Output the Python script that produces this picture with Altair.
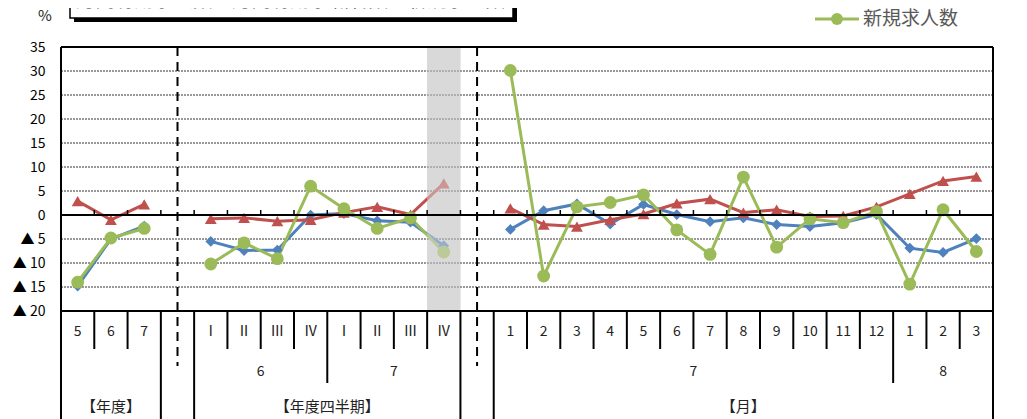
import altair as alt
import pandas as pd

# ---------------- data ----------------
fy_labels = ["5", "6", "7"]
q_labels = ["Ⅰ", "Ⅱ", "Ⅲ", "Ⅳ", "Ⅰ", "Ⅱ", "Ⅲ", "Ⅳ"]
m_labels = ["1", "2", "3", "4", "5", "6", "7", "8", "9", "10", "11", "12", "1", "2", "3"]
q_years = ["6", "7"]
m_years = ["7", "8"]
group_labels = ["【年度】", "【年度四半期】", "【月】"]
series_names = ["月間有効求人数", "月間有効求職者数", "新規求人数"]
series_colors = ["#4F81BD", "#C0504D", "#9BBB59"]
series_shapes = ["diamond", "triangle-up", "circle"]
title_text = "月間有効求人数、月間有効求職者数、新規求人数"

blue_fy = [-14.8, -5.0, -2.3]
blue_q = [-5.5, -7.4, -7.3, 0.0, 0.3, -1.2, -1.5, -6.4]
blue_m = [-3.0, 0.9, 2.3, -1.9, 2.2, 0.1, -1.4, -0.6, -2.0, -2.4, -1.6, 0.1, -6.9, -7.8, -4.9]

red_fy = [2.9, -1.0, 2.2]
red_q = [-0.8, -0.6, -1.3, -1.0, 0.5, 1.7, 0.1, 6.6]
red_m = [1.4, -2.0, -2.4, -1.0, 0.2, 2.4, 3.3, 0.5, 1.1, -0.3, -0.2, 1.7, 4.4, 7.1, 8.0]

green_fy = [-14.0, -4.8, -2.8]
green_q = [-10.2, -5.8, -9.1, 6.0, 1.3, -2.8, -0.6, -7.7]
green_m = [30.1, -12.7, 1.7, 2.6, 4.2, -3.1, -8.2, 7.9, -6.7, -0.8, -1.6, 0.7, -14.4, 1.1, -7.6]

y_ticks = [-20, -15, -10, -5, 0, 5, 10, 15, 20, 25, 30, 35]

# ---------------- layout ----------------
TOP, LEFT = 47, 61
W, H = 932, 378
PX = 4.8                       # pixels per unit
YMAX = 35
YMIN = YMAX - H / PX
NSLOT = 28

def ry(page_y):
    return page_y - TOP

def rx(page_x):
    return page_x - LEFT

slots_fy = [0, 1, 2]
slots_q = list(range(4, 12))
slots_m = list(range(13, 28))

xs = alt.Scale(domain=[0, NSLOT], nice=False, zero=False)
ys = alt.Scale(domain=[YMIN, YMAX], nice=False, zero=False)
FONT = "Noto Sans CJK JP"

y_axis = alt.Axis(
    values=y_ticks, title=None, domain=False, ticks=False, grid=False,
    labelFont=FONT, labelFontSize=14, labelColor="#000", labelPadding=16,
    labelOverlap=False, labelFlush=False,
    labelExpr="datum.value < 0 ? '▲ ' + abs(datum.value) : '' + datum.value")

rows = []
for name, fy, q, m in zip(series_names,
                          [blue_fy, red_fy, green_fy],
                          [blue_q, red_q, green_q],
                          [blue_m, red_m, green_m]):
    for grp, slots, vals in (("fy", slots_fy, fy), ("q", slots_q, q), ("m", slots_m, m)):
        for s, v in zip(slots, vals):
            rows.append({"series": name, "grp": grp, "x": s + 0.5, "value": v})
df = pd.DataFrame(rows)

color = alt.Color("series:N", scale=alt.Scale(domain=series_names, range=series_colors), legend=None)
shape = alt.Shape("series:N", scale=alt.Scale(domain=series_names, range=series_shapes), legend=None)
size = alt.Size("series:N", scale=alt.Scale(domain=series_names, range=[115, 165, 150]), legend=None)

bottom_px = ry(311)

# gray highlight band (last quarter)
band_df = pd.DataFrame({"x0": [11], "x1": [12]})
band = alt.Chart(band_df).mark_rect(color="#d9d9d9").encode(
    x=alt.X("x0:Q", scale=xs, axis=None), x2="x1:Q",
    y=alt.value(0), y2=alt.value(bottom_px))
band_over = alt.Chart(band_df).mark_rect(color="#d9d9d9", opacity=0.5).encode(
    x=alt.X("x0:Q", scale=xs, axis=None), x2="x1:Q",
    y=alt.value(0), y2=alt.value(bottom_px))

# gridlines
grid_df = pd.DataFrame({"g": [v for v in y_ticks if v not in (-20, 0, 35)]})
grid = alt.Chart(grid_df).mark_rule(color="#333333", strokeWidth=1, strokeDash=[2, 1]).encode(
    y=alt.Y("g:Q", scale=ys, axis=y_axis), x=alt.value(0), x2=alt.value(W))

# series
lines = alt.Chart(df).mark_line(strokeWidth=3).encode(
    x=alt.X("x:Q", scale=xs, axis=None),
    y=alt.Y("value:Q", scale=ys, axis=y_axis),
    color=color, detail="grp:N")
points = alt.Chart(df).mark_point(filled=True, opacity=1).encode(
    x=alt.X("x:Q", scale=xs, axis=None),
    y=alt.Y("value:Q", scale=ys, axis=y_axis),
    color=color, shape=shape, size=size)

# zero line and its ticks
zero = alt.Chart(pd.DataFrame({"z": [0]})).mark_rule(color="black", strokeWidth=2).encode(
    y=alt.Y("z:Q", scale=ys, axis=y_axis), x=alt.value(0), x2=alt.value(W))
bounds = list(range(1, NSLOT))
zero_px = (YMAX - 0) * PX
zticks = alt.Chart(pd.DataFrame({"b": bounds})).mark_rule(color="black", strokeWidth=1.5).encode(
    x=alt.X("b:Q", scale=xs, axis=None), y=alt.value(zero_px - 5), y2=alt.value(zero_px))

# plot border
one = pd.DataFrame({"a": [0]})
top_border = alt.Chart(one).mark_rule(color="black", strokeWidth=2).encode(
    y=alt.value(0), x=alt.value(0), x2=alt.value(W))
bot_border = alt.Chart(one).mark_rule(color="black", strokeWidth=2).encode(
    y=alt.value(bottom_px), x=alt.value(0), x2=alt.value(W))
vborder = alt.Chart(pd.DataFrame({"b": [0, NSLOT]})).mark_rule(color="black", strokeWidth=2).encode(
    x=alt.X("b:Q", scale=xs, axis=None), y=alt.value(0), y2=alt.value(H + 10))

# table separators
full_b = [3, 4, 12, 13]
year_b = [8, 25]
row_b = [b for b in bounds if b not in full_b + year_b]
sep1 = alt.Chart(pd.DataFrame({"b": row_b})).mark_rule(color="black", strokeWidth=2).encode(
    x=alt.X("b:Q", scale=xs, axis=None), y=alt.value(bottom_px), y2=alt.value(ry(349)))
sep2 = alt.Chart(pd.DataFrame({"b": year_b})).mark_rule(color="black", strokeWidth=2).encode(
    x=alt.X("b:Q", scale=xs, axis=None), y=alt.value(bottom_px), y2=alt.value(ry(383)))
sep3 = alt.Chart(pd.DataFrame({"b": full_b})).mark_rule(color="black", strokeWidth=2).encode(
    x=alt.X("b:Q", scale=xs, axis=None), y=alt.value(bottom_px), y2=alt.value(H + 10))
dashed = alt.Chart(pd.DataFrame({"b": [3.5, 12.5]})).mark_rule(
    color="black", strokeWidth=2, strokeDash=[9, 6]).encode(
    x=alt.X("b:Q", scale=xs, axis=None), y=alt.value(0), y2=alt.value(ry(366)))

# table text
row1 = pd.DataFrame({"x": [s + 0.5 for s in slots_fy + slots_q + slots_m],
                     "t": fy_labels + q_labels + m_labels})
t1 = alt.Chart(row1).mark_text(font=FONT, fontSize=14, color="#222", baseline="middle").encode(
    x=alt.X("x:Q", scale=xs, axis=None), y=alt.value(ry(332)), text="t:N")
row2 = pd.DataFrame({"x": [6.0, 10.0, 19.0, 26.5], "t": q_years + m_years})
t2 = alt.Chart(row2).mark_text(font=FONT, fontSize=14, color="#222", baseline="middle").encode(
    x=alt.X("x:Q", scale=xs, axis=None), y=alt.value(ry(372)), text="t:N")
row3 = pd.DataFrame({"x": [1.5, 8.0, 20.5], "t": group_labels})
t3 = alt.Chart(row3).mark_text(font=FONT, fontSize=15, color="#222", baseline="middle").encode(
    x=alt.X("x:Q", scale=xs, axis=None), y=alt.value(ry(407)), text="t:N")

# "%" unit
pct = alt.Chart(one).mark_text(text="%", font=FONT, fontSize=15, color="#222", baseline="middle").encode(
    x=alt.value(rx(45)), y=alt.value(ry(16)))

# title box (cut by the top of the page)
shadow = alt.Chart(one).mark_rect(color="black").encode(
    x=alt.value(rx(74)), x2=alt.value(rx(517)), y=alt.value(ry(-30)), y2=alt.value(ry(22)))
tbox = alt.Chart(one).mark_rect(fill="white", stroke="black", strokeWidth=1.5).encode(
    x=alt.value(rx(70)), x2=alt.value(rx(513)), y=alt.value(ry(-34)), y2=alt.value(ry(18)))
ttext = alt.Chart(one).mark_text(text=title_text, font=FONT, fontSize=19.5, color="#333",
                                 align="left", baseline="alphabetic").encode(
    x=alt.value(rx(76)), y=alt.value(ry(7)))

# legend (top entries run off the page)
legend_layers = []
for i, (name, col, shp) in enumerate(zip(series_names, series_colors, series_shapes)):
    yy = ry(19 - 22 * (2 - i))
    legend_layers.append(alt.Chart(one).mark_rule(color=col, strokeWidth=3).encode(
        x=alt.value(rx(815)), x2=alt.value(rx(859)), y=alt.value(yy)))
    legend_layers.append(alt.Chart(one).mark_point(filled=True, opacity=1, color=col, shape=shp, size=140).encode(
        x=alt.value(rx(837)), y=alt.value(yy)))
    legend_layers.append(alt.Chart(one).mark_text(text=name, font=FONT, fontSize=19, color="#595959",
                                                  align="left", baseline="middle").encode(
        x=alt.value(rx(863)), y=alt.value(yy)))

chart = alt.layer(
    band, grid, lines, points, band_over, zero, zticks, top_border, bot_border, vborder,
    sep1, sep2, sep3, dashed, t1, t2, t3, pct, shadow, tbox, ttext, *legend_layers
).properties(
    width=W, height=H,
    autosize=alt.AutoSizeParams(type="none"),
    padding={"left": LEFT - 8, "top": TOP - 8, "right": 26, "bottom": 0},
    background="white",
).configure_view(stroke=None)

chart.save("out.html", embed_options={"renderer": "svg", "actions": False})
